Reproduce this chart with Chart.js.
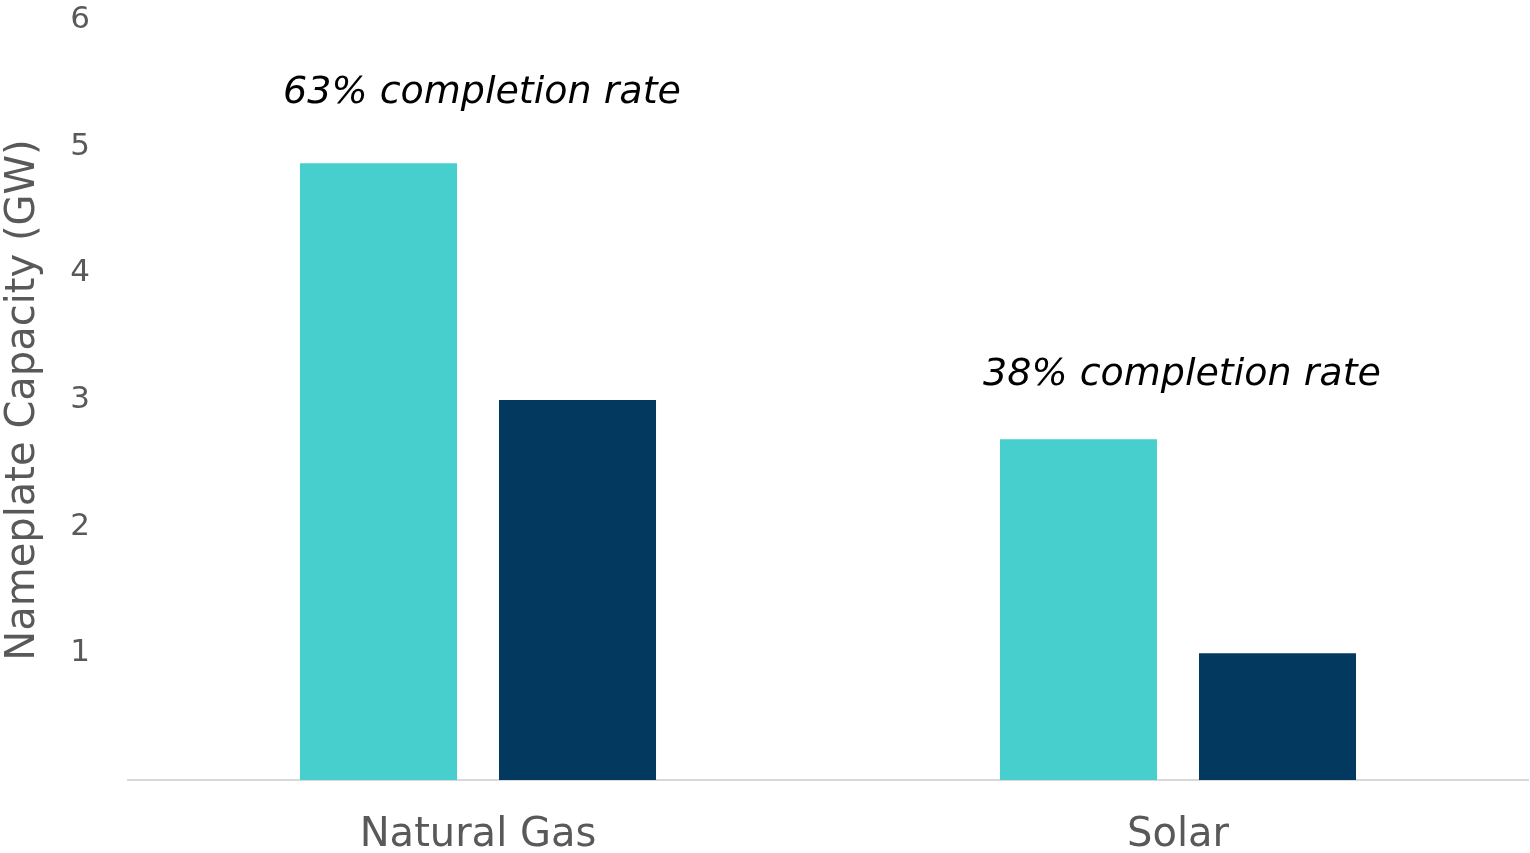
<!DOCTYPE html>
<html>
<head>
<meta charset="utf-8">
<script src="https://cdn.jsdelivr.net/npm/chart.js@4"></script>
<style>
  html, body { margin: 0; padding: 0; background: #fff; }
  #wrap { width: 1530px; height: 853px; }
</style>
</head>
<body>
<div id="wrap"><canvas id="myChart"></canvas></div>
<script>
// data
const categories = ["Natural Gas", "Solar"];
const proposedValues = [4.87, 2.69];
const completedValues = [3.0, 1.0];
const yTicks = [1, 2, 3, 4, 5, 6];
const noteLabels = ["63% completion rate", "38% completion rate"];
const noteLevels = [5.42, 3.2];

const fontFamily = "'DejaVu Sans', sans-serif";
const grey = "#595959";

// draws the completion notes above each group
const notesPlugin = {
  id: "notes",
  afterDatasetsDraw(chart) {
    const ctx = chart.ctx;
    const x = chart.scales.x;
    const y = chart.scales.y;
    ctx.save();
    ctx.font = "italic 38px " + fontFamily;
    ctx.fillStyle = "#000";
    ctx.textAlign = "center";
    ctx.textBaseline = "middle";
    noteLabels.forEach((txt, i) => {
      ctx.fillText(txt, x.getPixelForValue(i) + 4, y.getPixelForValue(noteLevels[i]));
    });
    ctx.restore();
  },
};

const chartContainer = document.getElementById("myChart").getContext("2d");

const myChart = new Chart(chartContainer, {
  type: "bar",
  data: {
    labels: categories,
    datasets: [
      {
        label: "Proposed",
        data: proposedValues,
        backgroundColor: "#46cfcd",
        categoryPercentage: 0.5686,
        barPercentage: 0.789,
      },
      {
        label: "Completed",
        data: completedValues,
        backgroundColor: "#03395f",
        categoryPercentage: 0.5686,
        barPercentage: 0.789,
      },
    ],
  },
  options: {
    responsive: true,
    maintainAspectRatio: false,
    animation: false,
    layout: { padding: { top: 0, right: 2, left: 0, bottom: 0 } },
    plugins: {
      legend: { display: false },
      tooltip: { enabled: false },
    },
    scales: {
      x: {
        grid: { display: false, drawTicks: false },
        border: { display: true, color: "#d9d9d9", width: 2 },
        ticks: {
          color: grey,
          padding: 32,
          font: { family: fontFamily, size: 40 },
        },
        afterFit: (scale) => {
          scale.height = 73;
        },
      },
      y: {
        min: 0,
        max: 6,
        afterBuildTicks: (scale) => {
          scale.ticks = [0].concat(yTicks).map((v) => ({ value: v }));
        },
        grid: { display: false, drawTicks: false },
        border: { display: false },
        ticks: {
          color: grey,
          padding: 38,
          font: { family: fontFamily, size: 31 },
          callback: (v) => (v === 0 ? "" : v),
        },
        title: {
          display: true,
          text: "Nameplate Capacity (GW)",
          color: grey,
          padding: 0,
          font: { family: fontFamily, size: 40 },
        },
        afterFit: (scale) => {
          scale.width = 128;
          scale.paddingTop = 20;
        },
      },
    },
  },
  plugins: [notesPlugin],
});
</script>
</body>
</html>
